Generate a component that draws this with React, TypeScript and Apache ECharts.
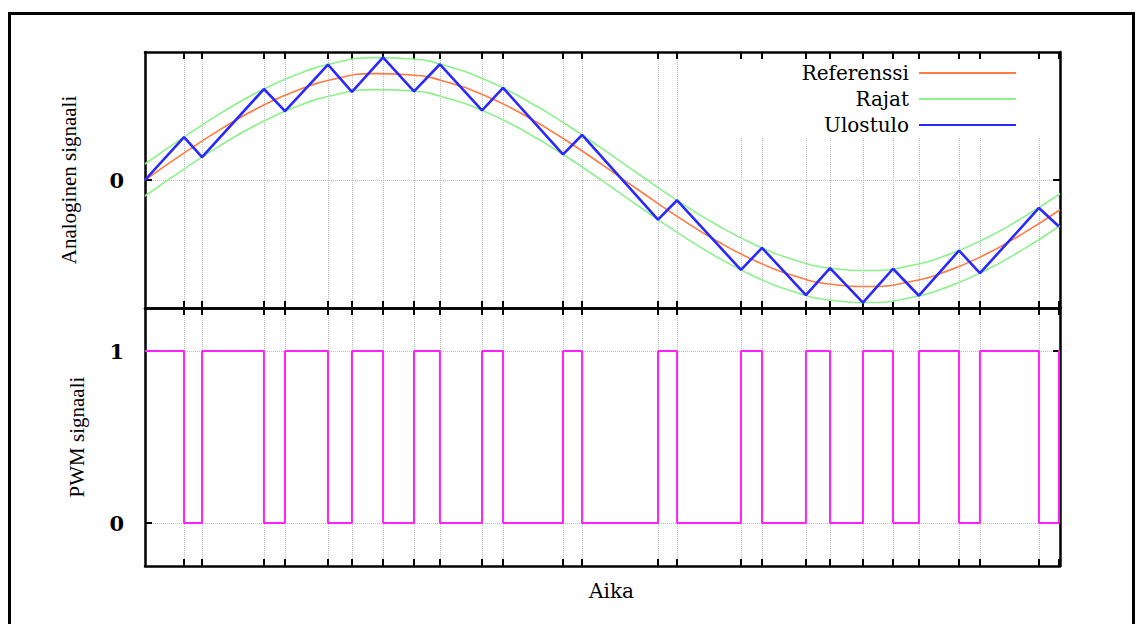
import React, { useEffect, useRef } from "react";
import * as echarts from "echarts";

// Reference signal sampled along the time axis
const sampleTimes = [0, 0.25, 0.5, 0.75, 1, 1.25, 1.5, 1.75, 2, 2.25, 2.5, 2.75, 3, 3.25, 3.5, 3.75, 4, 4.25, 4.5, 4.75, 5, 5.25, 5.5, 5.75, 6];
const referenceValues = [0, 0.247, 0.479, 0.682, 0.841, 0.949, 0.997, 0.984, 0.909, 0.778, 0.598, 0.382, 0.141, -0.108, -0.351, -0.572, -0.757, -0.895, -0.978, -0.999, -0.959, -0.859, -0.706, -0.508, -0.279];
const upperBound = [0.15, 0.397, 0.629, 0.832, 0.991, 1.099, 1.147, 1.134, 1.059, 0.928, 0.748, 0.532, 0.291, 0.042, -0.201, -0.422, -0.607, -0.745, -0.828, -0.849, -0.809, -0.709, -0.556, -0.358, -0.129];
const lowerBound = [-0.15, 0.097, 0.329, 0.532, 0.691, 0.799, 0.847, 0.834, 0.759, 0.628, 0.448, 0.232, -0.009, -0.258, -0.501, -0.722, -0.907, -1.045, -1.128, -1.149, -1.109, -1.009, -0.856, -0.658, -0.429];

// Switching instants (ticks / vertical grid lines)
const switchTimes = [0.256, 0.374, 0.78, 0.918, 1.2, 1.357, 1.561, 1.764, 1.934, 2.21, 2.348, 2.741, 2.866, 3.364, 3.489, 3.908, 4.046, 4.334, 4.492, 4.708, 4.905, 5.075, 5.338, 5.475, 5.862, 5.993];

// Output (triangle) vertices
const outputTimes = [0, 0.256, 0.374, 0.78, 0.918, 1.2, 1.357, 1.561, 1.764, 1.934, 2.21, 2.348, 2.741, 2.866, 3.364, 3.489, 3.908, 4.046, 4.334, 4.492, 4.708, 4.905, 5.075, 5.338, 5.475, 5.862, 5.993];
const outputValues = [0, 0.403, 0.215, 0.853, 0.645, 1.082, 0.827, 1.15, 0.831, 1.085, 0.652, 0.863, 0.241, 0.422, -0.371, -0.19, -0.843, -0.636, -1.08, -0.826, -1.15, -0.832, -1.085, -0.661, -0.874, -0.262, -0.436];

// PWM levels (value holds from each time until the next)
const pwmTimes = [0, 0.256, 0.374, 0.78, 0.918, 1.2, 1.357, 1.561, 1.764, 1.934, 2.21, 2.348, 2.741, 2.866, 3.364, 3.489, 3.908, 4.046, 4.334, 4.492, 4.708, 4.905, 5.075, 5.338, 5.475, 5.862, 5.993, 6];
const pwmLevels = [1, 0, 1, 0, 1, 0, 1, 0, 1, 0, 1, 0, 1, 0, 1, 0, 1, 0, 1, 0, 1, 0, 1, 0, 1, 0, 1, 1];

const analogTicks = [0];
const pwmTicks = [0, 1];
const legendNames = ["Referenssi", "Rajat", "Ulostulo"];

const SERIF = "DejaVu Serif";
const TIMES = "Liberation Serif";

export default function App() {
  const ref = useRef<HTMLDivElement>(null);
  useEffect(() => {
    if (!ref.current) return;
    const chart = echarts.init(ref.current, undefined, { renderer: "svg" });
    const axisLine = { show: true, onZero: false, lineStyle: { color: "#000", width: 2.5 } };
    const tick = (vals: number[]) => ({
      show: true,
      inside: true,
      length: 7,
      customValues: vals,
      lineStyle: { color: "#000", width: 2 },
    });
    const dotted = { type: "dotted", color: "#bdbdbd", width: 1 };
    const xAx = (gridIndex: number, position: string, split: boolean, extra: any = {}) => ({
      type: "value",
      gridIndex,
      position,
      min: 0,
      max: 6,
      axisLine,
      axisTick: tick(switchTimes),
      axisLabel: { show: false },
      splitLine: { show: split, lineStyle: dotted },
      ...extra,
    });
    const yAx = (
      gridIndex: number,
      position: string,
      min: number,
      max: number,
      ticks: number[],
      main: boolean,
      extra: any = {}
    ) => ({
      type: "value",
      gridIndex,
      position,
      min,
      max,
      axisLine,
      axisTick: tick(ticks),
      axisLabel: main
        ? { show: true, customValues: ticks, margin: 21, fontFamily: SERIF, fontWeight: "bold", fontSize: 21, color: "#000" }
        : { show: false },
      splitLine: { show: main, lineStyle: dotted },
      ...extra,
    });

    const lineBase = { type: "line", showSymbol: false, symbol: "none", animation: false };

    chart.setOption({
      animation: false,
      backgroundColor: "#fff",
      grid: [
        { left: 145, right: 76, top: 52, height: 256 },
        { left: 145, right: 76, top: 308, height: 258 },
      ],
      xAxis: [
        xAx(0, "bottom", true),
        xAx(0, "top", false),
        xAx(1, "bottom", true, {
          name: "Aika",
          nameLocation: "middle",
          nameGap: 15,
          nameTextStyle: { fontFamily: SERIF, fontSize: 20, color: "#000", padding: [0, 0, 0, 18] },
        }),
        xAx(1, "top", false),
      ],
      yAxis: [
        yAx(0, "left", -1.2, 1.2, analogTicks, true, {
          name: "Analoginen signaali",
          nameLocation: "middle",
          nameGap: 66,
          nameTextStyle: { fontFamily: TIMES, fontSize: 21, color: "#000" },
        }),
        yAx(0, "right", -1.2, 1.2, analogTicks, false),
        yAx(1, "left", -0.25, 1.25, pwmTicks, true, {
          name: "PWM signaali",
          nameLocation: "middle",
          nameGap: 58,
          nameTextStyle: { fontFamily: TIMES, fontSize: 21, color: "#000" },
        }),
        yAx(1, "right", -0.25, 1.25, pwmTicks, false),
      ],
      legend: {
        data: legendNames,
        orient: "vertical",
        align: "right",
        right: 91,
        top: 59,
        padding: [4, 28, 3, 110],
        itemWidth: 97,
        itemHeight: 20,
        itemGap: 6,
        selectedMode: false,
        backgroundColor: "#fff",
        itemStyle: { opacity: 0 },
        textStyle: { fontFamily: SERIF, fontSize: 20, color: "#000", padding: [0, 5, 0, 0] },
      },
      graphic: [
        {
          type: "rect",
          silent: true,
          shape: { x: 9.5, y: 13.5, width: 1124, height: 700 },
          style: { fill: "none", stroke: "#000", lineWidth: 3 },
        },
      ],
      series: [
        {
          ...lineBase,
          name: "Referenssi",
          xAxisIndex: 0,
          yAxisIndex: 0,
          smooth: true,
          color: "#ff7a45",
          lineStyle: { color: "#ff7a45", width: 1.6 },
          data: sampleTimes.map((t, i) => [t, referenceValues[i]]),
        },
        {
          ...lineBase,
          name: "Rajat",
          xAxisIndex: 0,
          yAxisIndex: 0,
          smooth: true,
          color: "#8cf08c",
          lineStyle: { color: "#8cf08c", width: 1.6 },
          data: sampleTimes.map((t, i) => [t, upperBound[i]]),
        },
        {
          ...lineBase,
          name: "Rajat",
          xAxisIndex: 0,
          yAxisIndex: 0,
          smooth: true,
          color: "#8cf08c",
          lineStyle: { color: "#8cf08c", width: 1.6 },
          data: sampleTimes.map((t, i) => [t, lowerBound[i]]),
        },
        {
          ...lineBase,
          name: "Ulostulo",
          xAxisIndex: 0,
          yAxisIndex: 0,
          color: "#2828ff",
          lineStyle: { color: "#2828ff", width: 2.6 },
          data: outputTimes.map((t, i) => [t, outputValues[i]]),
        },
        {
          ...lineBase,
          name: "PWM",
          xAxisIndex: 2,
          yAxisIndex: 2,
          step: "end",
          color: "#ff22ff",
          lineStyle: { color: "#ff22ff", width: 2 },
          data: pwmTimes.map((t, i) => [t, pwmLevels[i]]),
        },
      ],
    });
    return () => chart.dispose();
  }, []);
  return (
    <div
      ref={ref}
      style={{ position: "fixed", left: 0, top: 0, width: 1136, height: 624, background: "#fff" }}
    />
  );
}
